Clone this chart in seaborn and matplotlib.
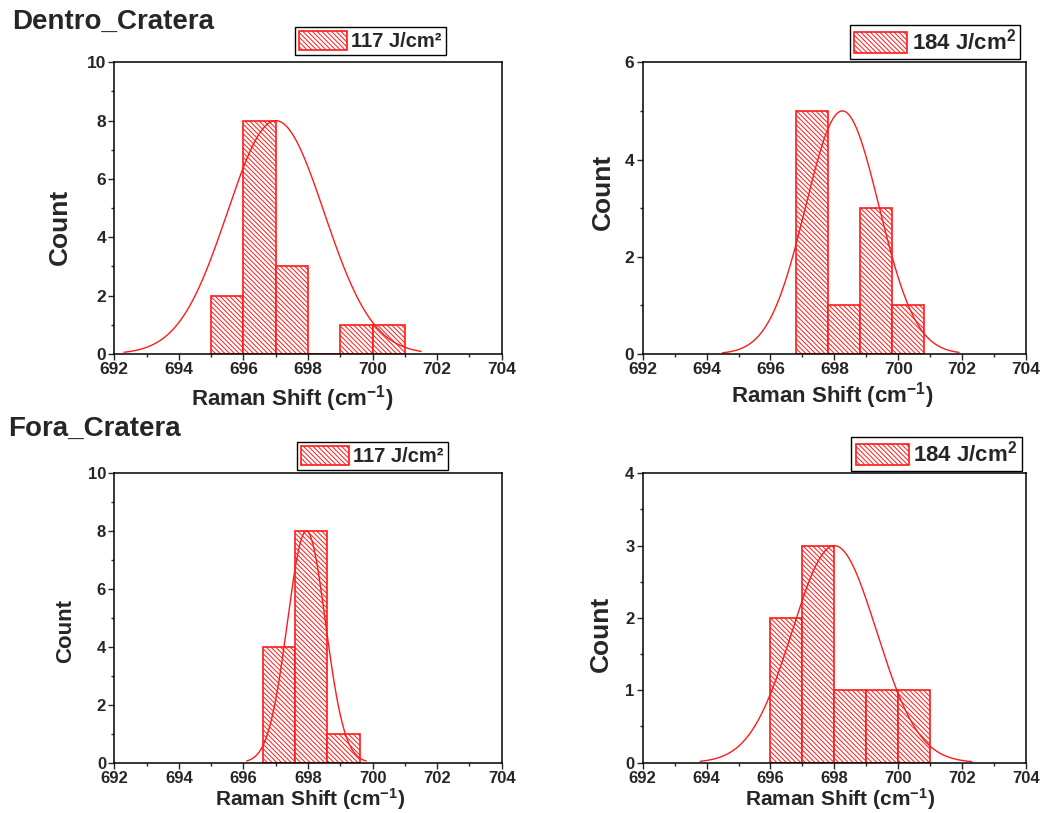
import matplotlib
matplotlib.use("Agg")
import matplotlib.pyplot as plt
from matplotlib.patches import Patch
from matplotlib.ticker import MultipleLocator
import numpy as np
import seaborn as sns

# histogram bins (edges) and counts
dentro_117_edges = [695, 696, 697, 698, 699, 700, 701]
dentro_117_counts = [2, 8, 3, 0, 1, 1]
dentro_184_edges = [696.8, 697.8, 698.8, 699.8, 700.8]
dentro_184_counts = [5, 1, 3, 1]
fora_117_edges = [696.6, 697.6, 698.6, 699.6]
fora_117_counts = [4, 8, 1]
fora_184_edges = [696, 697, 698, 699, 700, 701]
fora_184_counts = [2, 3, 1, 1, 1]

# normal curve overlay: centre, sigma, peak height, x start, x end
dentro_117_curve = [697.0, 1.5, 8, 692.3, 701.5]
dentro_184_curve = [698.25, 1.15, 5, 694.5, 701.9]
fora_117_curve = [697.95, 0.59, 8, 696.1, 699.8]
fora_184_curve = [698.0, 1.32, 3, 693.8, 702.3]

legend_labels = ["117 J/cm\u00b2", r"184 J/cm$^{\mathbf{2}}$",
                 "117 J/cm\u00b2", r"184 J/cm$^{\mathbf{2}}$"]
group_titles = ["Dentro_Cratera", "Fora_Cratera"]
x_ticks = [692, 694, 696, 698, 700, 702, 704]
y_max = [10, 6, 10, 4]
y_step = [2, 2, 2, 1]

sns.set_style("ticks")
plt.rcParams["font.family"] = ["Liberation Sans", "DejaVu Sans"]
plt.rcParams["font.weight"] = "bold"
plt.rcParams["mathtext.fontset"] = "custom"
plt.rcParams["mathtext.rm"] = "Liberation Sans:bold"
plt.rcParams["mathtext.bf"] = "Liberation Sans:bold"
plt.rcParams["mathtext.default"] = "bf"
plt.rcParams["hatch.linewidth"] = 0.7

RED = "#ff1a1a"
HATCH = "\\" * 7

fig = plt.figure(figsize=(10.49, 8.13), dpi=100)

# axes rectangles in figure fractions (left, bottom, width, height)
rects = [
    [0.109, 0.5646, 0.3693, 0.3588],
    [0.6127, 0.5646, 0.3654, 0.3588],
    [0.109, 0.0619, 0.3693, 0.356],
    [0.6127, 0.0619, 0.3654, 0.356],
]
legend_pos = [(0.3532, 0.9496), (0.8913, 0.9483), (0.3551, 0.4391), (0.8928, 0.4416)]
legend_fs = [14.5, 16, 14.5, 16]
tick_fs = [12.5, 12.5, 12, 12]
ylabel_fs = [19, 19, 16, 19]
xlabel_fs = [16, 16, 15, 15]
ylabel_xy = [(-0.109, 0.435), (-0.072, 0.555), (-0.099, 0.455), (-0.077, 0.446)]
xlabel_xy = [(0.459, -0.099), (0.493, -0.089), (0.505, -0.081), (0.516, -0.082)]

panels = [
    (dentro_117_edges, dentro_117_counts, dentro_117_curve),
    (dentro_184_edges, dentro_184_counts, dentro_184_curve),
    (fora_117_edges, fora_117_counts, fora_117_curve),
    (fora_184_edges, fora_184_counts, fora_184_curve),
]

for i, (edges, counts, curve) in enumerate(panels):
    ax = fig.add_axes(rects[i])
    edges_arr = np.array(edges)
    centers = (edges_arr[:-1] + edges_arr[1:]) / 2
    sns.histplot(x=centers, weights=counts, bins=edges, ax=ax,
                 facecolor="white", edgecolor=RED, hatch=HATCH,
                 linewidth=1.2, alpha=1)
    for p in ax.patches:
        p.set_facecolor("white")
        p.set_edgecolor(RED)
        p.set_hatch(HATCH)

    mu, sigma, peak, x0, x1 = curve
    xs = np.linspace(x0, x1, 300)
    ys = peak * np.exp(-((xs - mu) ** 2) / (2 * sigma ** 2))
    sns.lineplot(x=xs, y=ys, ax=ax, color=RED, linewidth=1.0)

    ax.set_xlim(692, 704)
    ax.set_ylim(0, y_max[i])
    ax.set_xticks(x_ticks)
    ax.xaxis.set_minor_locator(MultipleLocator(1))
    ax.yaxis.set_major_locator(MultipleLocator(y_step[i]))
    ax.yaxis.set_minor_locator(MultipleLocator(y_step[i] / 2))
    ax.tick_params(which="major", direction="out", length=4.5, width=1.0,
                   labelsize=tick_fs[i], pad=1.5)
    ax.tick_params(which="minor", direction="out", length=2.5, width=1.0)
    for lab in ax.get_xticklabels() + ax.get_yticklabels():
        lab.set_fontweight("bold")
    for s in ax.spines.values():
        s.set_visible(True)
        s.set_linewidth(1.1)
        s.set_color("black")
    ax.set_xlabel(r"Raman Shift (cm$^{\mathbf{-1}}$)", fontsize=xlabel_fs[i],
                  fontweight="bold")
    ax.set_ylabel("Count", fontsize=ylabel_fs[i], fontweight="bold")
    ax.xaxis.set_label_coords(*xlabel_xy[i])
    ax.yaxis.set_label_coords(*ylabel_xy[i])
    ax.grid(False)

    handle = Patch(facecolor="white", edgecolor=RED, hatch=HATCH, linewidth=1.2)
    fig.legend([handle], [legend_labels[i]], loc="center",
               bbox_to_anchor=legend_pos[i], bbox_transform=fig.transFigure,
               fancybox=False, edgecolor="black", framealpha=1,
               prop={"weight": "bold", "size": legend_fs[i]},
               handlelength=2.4, handleheight=1.1, handletextpad=0.2,
               borderpad=0.2, borderaxespad=0)

fig.text(12 / 1049, 1 - 22 / 813, group_titles[0], fontsize=20,
         fontweight="bold", va="center", ha="left")
fig.text(8 / 1049, 1 - 429 / 813, group_titles[1], fontsize=20,
         fontweight="bold", va="center", ha="left")

fig.savefig("out.png", dpi=100)
